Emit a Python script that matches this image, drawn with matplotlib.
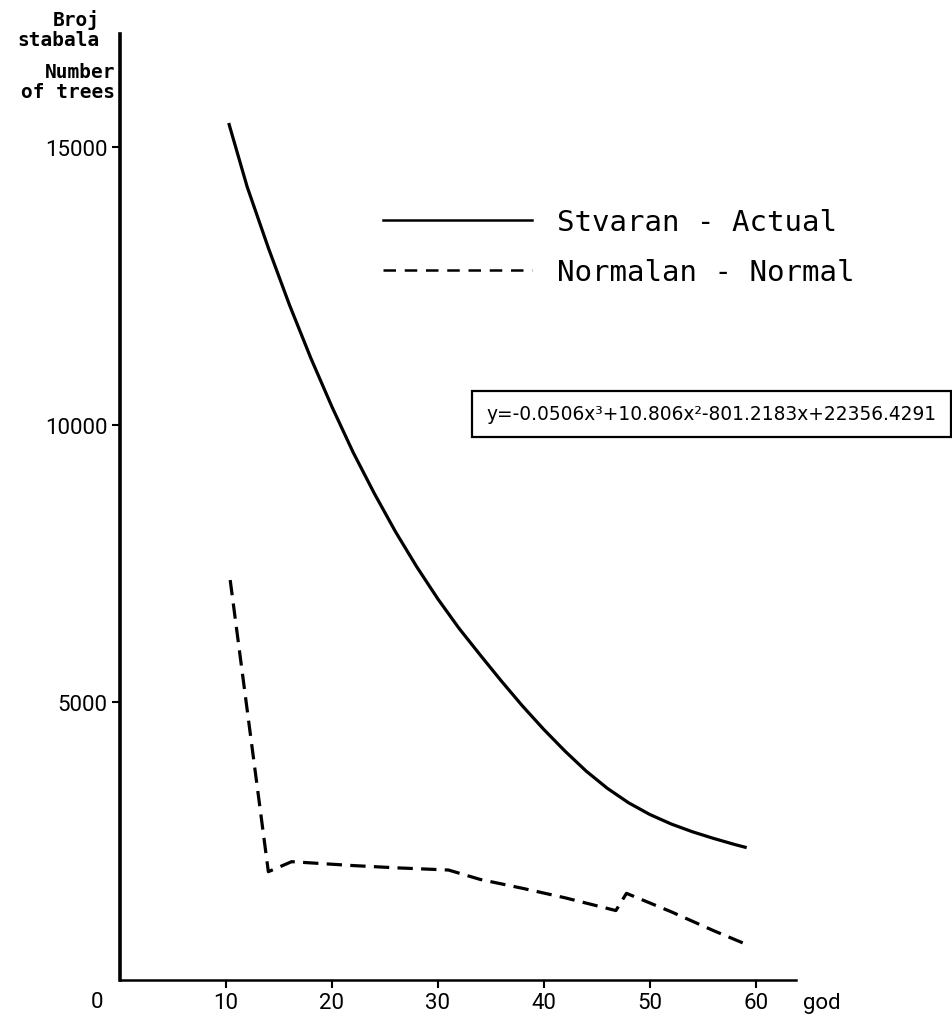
import matplotlib
matplotlib.use('Agg')
import matplotlib.pyplot as plt

# Stvaran - Actual
god_actual = [10.3, 12, 14, 16, 18, 20, 22, 24, 26, 28, 30, 32, 34, 36, 38,
              40, 42, 44, 46, 48, 50, 52, 54, 56, 58, 59]
broj_actual = [15400, 14280, 13180, 12150, 11200, 10320, 9500, 8760, 8070,
               7440, 6860, 6330, 5850, 5380, 4930, 4510, 4120, 3760, 3450,
               3190, 2980, 2810, 2670, 2550, 2440, 2390]

# Normalan - Normal (dashed)
god_normal = [10.4, 14.0, 16.2, 22, 26, 31, 34, 38, 42, 46.8, 47.8, 52, 56, 59]
broj_normal = [7200, 1950, 2130, 2060, 2020, 1980, 1810, 1650, 1480, 1250,
               1560, 1230, 890, 650]

x_ticks = [10, 20, 30, 40, 50, 60]
y_ticks = [5000, 10000, 15000]
equation = 'y=-0.0506x³+10.806x²-801.2183x+22356.4291'

W, H = 952, 1020
fig = plt.figure(figsize=(W / 100, H / 100), dpi=100)
ax = fig.add_axes([120 / W, 39 / H, 676 / W, 946 / H])

l1, = ax.plot(god_actual, broj_actual, color='black', lw=2.3,
              solid_joinstyle='round', label='Stvaran - Actual')
l2, = ax.plot(god_normal, broj_normal, color='black', lw=2.3,
              dashes=(4.8, 2.6), label='Normalan - Normal')

ax.set_xlim(0, 63.8)
ax.set_ylim(0, 17030)
ax.set_xticks(x_ticks)
ax.set_yticks(y_ticks)
ax.set_xticklabels([str(t) for t in x_ticks], family='Roboto', fontsize=16)
ax.set_yticklabels([str(t) for t in y_ticks], family='Roboto', fontsize=16)
ax.tick_params(direction='out', length=6, width=1.5, pad=3, colors='black')

for s in ['top', 'right']:
    ax.spines[s].set_visible(False)
ax.spines['left'].set_linewidth(2.6)
ax.spines['bottom'].set_linewidth(1.8)

leg = ax.legend(handles=[l1, l2], loc='upper left',
                bbox_to_anchor=(0.389, 0.816), frameon=False,
                prop={'family': 'DejaVu Sans Mono', 'size': 21},
                handlelength=5.1, handletextpad=0.85, labelspacing=0.75,
                borderpad=0, borderaxespad=0)
leg_lines = leg.get_lines()
leg_lines[0].set_linewidth(1.8)
leg_lines[1].set_linewidth(1.8)
leg_lines[1].set_dashes((5, 3.5))

fig.text(711.5 / W, 1 - 415 / H, equation, ha='center', va='center',
         fontsize=13.4, family='DejaVu Sans',
         bbox=dict(boxstyle='square,pad=0.75', fc='white', ec='black', lw=1.6))

# axis titles
lab = dict(family='DejaVu Sans Mono', fontweight='bold', fontsize=14, ha='right', va='center')
fig.text(100 / W, 1 - 20 / H, 'Broj', **lab)
fig.text(100 / W, 1 - 40 / H, 'stabala', **lab)
fig.text(115 / W, 1 - 72 / H, 'Number', **lab)
fig.text(115 / W, 1 - 93 / H, 'of trees', **lab)

fig.text(97 / W, 1 - 1003 / H, '0', ha='center', va='center', family='Roboto', fontsize=16)
fig.text(803 / W, 1 - 1004 / H, 'god', ha='left', va='center', family='Roboto', fontsize=16)

fig.savefig('out.png', dpi=100)
